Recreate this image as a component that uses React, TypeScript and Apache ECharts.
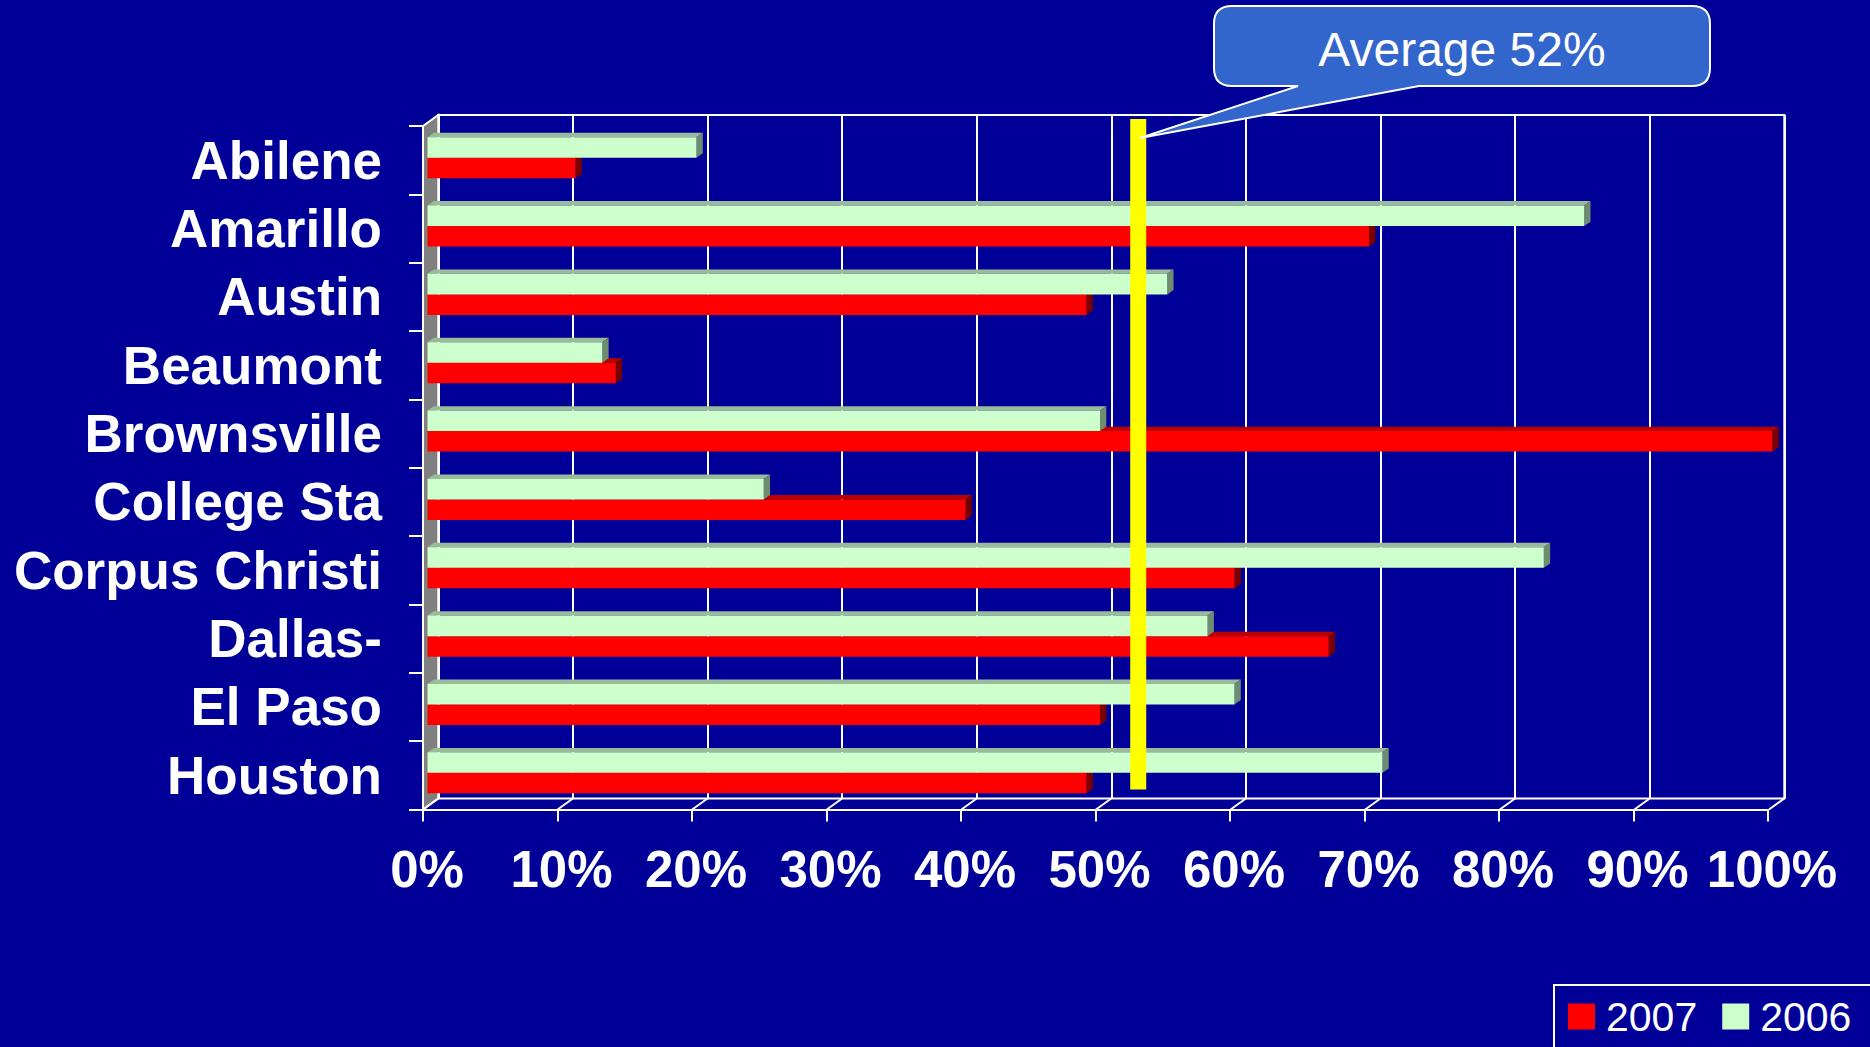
import React, { useEffect, useRef } from 'react';
import * as echarts from 'echarts';

// ---- data ----
const cities = [
  'Abilene',
  'Amarillo',
  'Austin',
  'Beaumont',
  'Brownsville',
  'College Sta',
  'Corpus Christi',
  'Dallas-',
  'El Paso',
  'Houston',
];
const values2007 = [11, 70, 49, 14, 100, 40, 60, 67, 50, 49];
const values2006 = [20, 86, 55, 13, 50, 25, 83, 58, 60, 71];
const percentTicks = [0, 10, 20, 30, 40, 50, 60, 70, 80, 90, 100];
const averagePct = 52;
const seriesNames = ['2007', '2006'];

// ---- look ----
const FONT = '"Liberation Sans", Arial, Helvetica, sans-serif';
const BG = '#000099';
const WHITE = '#FFFFFF';
const RED = { front: '#FF0000', top: '#BB0000', side: '#7A0000' };
const GREEN = { front: '#CCFFCC', top: '#99BB99', side: '#6E8C6E' };
const YELLOW = '#FFFF00';

// 3D box planes (back wall, front floor edge, bar plane in between)
const BACK = { left: 438.3, top: 115, width: 1346, height: 683.5 };
const FRONT = { left: 423, top: 126, width: 1345, height: 683.5 };
const BARS = { left: 427.5, top: 123.5, width: 1345, height: 683.5 };
const BAR_DEPTH = { dx: 6.3, dy: -4.4 };
const BAR_RATIO = 0.3; // bar thickness as a share of a category band

// legend frame (runs off the bottom-right corner)
const LEGEND_BOX = { x: 1554, y: 985, width: 400, height: 120 };

// speech bubble outline, drawn in local coords
const BUBBLE = { x: 1214, y: 6, w: 496, h: 80, r: 18, tailL: 84, tailR: 205, tipX: -74, tipY: 132 };
const bubblePath = (() => {
  const { w, h, r, tailL, tailR, tipX, tipY } = BUBBLE;
  return (
    `M ${r} 0 H ${w - r} Q ${w} 0 ${w} ${r} V ${h - r} Q ${w} ${h} ${w - r} ${h} ` +
    `H ${tailR} L ${tipX} ${tipY} L ${tailL} ${h} H ${r} Q 0 ${h} 0 ${h - r} V ${r} Q 0 0 ${r} 0 Z`
  );
})();
echarts.graphic.registerShape('callout', echarts.graphic.extendPath(bubblePath, {}));

// a flat-shaded 3D bar: front face, top face and right side face
function barRenderer(upper: boolean, colors: { front: string; top: string; side: string }) {
  return (params: any, api: any) => {
    const v = api.value(0);
    const c = api.value(1);
    const start = api.coord([0, c]);
    const end = api.coord([v, c]);
    const band = api.size([0, 1])[1];
    const h = band * BAR_RATIO;
    const x0 = start[0];
    const x1 = end[0];
    const y0 = upper ? start[1] - h : start[1];
    const { dx, dy } = BAR_DEPTH;
    return {
      type: 'group',
      children: [
        {
          type: 'polygon',
          shape: { points: [[x0, y0], [x0 + dx, y0 + dy], [x1 + dx, y0 + dy], [x1, y0]] },
          style: { fill: colors.top },
        },
        {
          type: 'polygon',
          shape: { points: [[x1, y0], [x1 + dx, y0 + dy], [x1 + dx, y0 + h + dy], [x1, y0 + h]] },
          style: { fill: colors.side },
        },
        {
          type: 'rect',
          shape: { x: x0, y: y0, width: x1 - x0, height: h },
          style: { fill: colors.front },
        },
      ],
    };
  };
}

export default function App() {
  const ref = useRef<HTMLDivElement>(null);

  useEffect(() => {
    document.body.style.margin = '0';
    document.body.style.background = BG;
    const chart = echarts.init(ref.current!, undefined, { renderer: 'svg' });

    const option: any = {
      animation: false,
      backgroundColor: BG,
      textStyle: { fontFamily: FONT },
      grid: [
        { ...BACK, show: true, borderColor: WHITE, borderWidth: 2, backgroundColor: 'transparent' },
        { ...FRONT },
        { ...BARS },
      ],
      xAxis: [
        {
          gridIndex: 0,
          type: 'value',
          min: 0,
          max: 100,
          interval: 10,
          axisLine: { show: false },
          axisTick: { show: false },
          axisLabel: { show: false },
          splitLine: { show: true, lineStyle: { color: WHITE, width: 2 } },
        },
        {
          gridIndex: 1,
          type: 'value',
          min: 0,
          max: 100,
          interval: 10,
          z: 2,
          axisLine: { show: true, onZero: false, lineStyle: { color: WHITE, width: 2 } },
          axisTick: { show: true, length: 12, lineStyle: { color: WHITE, width: 2 } },
          axisLabel: {
            formatter: '{value}%',
            color: WHITE,
            fontSize: 51,
            fontWeight: 'bold',
            fontFamily: FONT,
            margin: 34,
            padding: [0, 0, 0, 8],
          },
          splitLine: { show: false },
        },
        { gridIndex: 2, type: 'value', min: 0, max: 100, show: false },
      ],
      yAxis: [
        { gridIndex: 0, type: 'value', min: 0, max: 1, show: false },
        {
          gridIndex: 1,
          type: 'category',
          data: cities,
          inverse: true,
          z: 2,
          axisLine: { show: true, lineStyle: { color: WHITE, width: 2 } },
          axisTick: { show: true, length: 14, lineStyle: { color: WHITE, width: 2 } },
          axisLabel: {
            interval: 0,
            color: WHITE,
            fontSize: 53,
            fontWeight: 'bold',
            fontFamily: FONT,
            margin: 41,
          },
          splitLine: { show: false },
        },
        { gridIndex: 2, type: 'category', data: cities, inverse: true, show: false },
      ],
      legend: {
        data: seriesNames,
        left: LEGEND_BOX.x,
        top: LEGEND_BOX.y,
        orient: 'horizontal',
        icon: 'rect',
        itemWidth: 27,
        itemHeight: 26,
        itemGap: 25,
        padding: [11, 0, 0, 14],
        selectedMode: false,
        textStyle: { color: WHITE, fontSize: 41, fontFamily: FONT, padding: [0, 0, 0, 6] },
      },
      series: [
        {
          // floor lines joining the back wall grid to the front axis ticks
          type: 'custom',
          xAxisIndex: 0,
          yAxisIndex: 0,
          silent: true,
          z: 1,
          data: percentTicks.map((v) => [v, 0]),
          renderItem: (params: any, api: any) => {
            const p = api.coord([api.value(0), 0]);
            return {
              type: 'line',
              shape: { x1: p[0], y1: p[1], x2: p[0] - (BACK.left - FRONT.left), y2: p[1] + 11 },
              style: { stroke: WHITE, lineWidth: 2 },
            };
          },
        },
        {
          name: seriesNames[0],
          type: 'custom',
          xAxisIndex: 2,
          yAxisIndex: 2,
          z: 3,
          itemStyle: { color: RED.front },
          encode: { x: 0, y: 1 },
          data: values2007.map((v, i) => [v, i]),
          renderItem: barRenderer(false, RED),
        },
        {
          name: seriesNames[1],
          type: 'custom',
          xAxisIndex: 2,
          yAxisIndex: 2,
          z: 3,
          itemStyle: { color: GREEN.front },
          encode: { x: 0, y: 1 },
          data: values2006.map((v, i) => [v, i]),
          renderItem: barRenderer(true, GREEN),
        },
        {
          // average marker on the back wall
          type: 'custom',
          xAxisIndex: 0,
          yAxisIndex: 0,
          silent: true,
          z: 5,
          data: [[averagePct, 0]],
          renderItem: (params: any, api: any) => {
            const top = api.coord([api.value(0), 1]);
            const bottom = api.coord([api.value(0), 0]);
            const w = 16;
            return {
              type: 'rect',
              shape: { x: top[0] - w / 2, y: top[1] + 4, width: w, height: bottom[1] - top[1] - 13 },
              style: { fill: YELLOW },
            };
          },
        },
      ],
      graphic: [
        {
          // left side wall of the box
          type: 'polygon',
          z: 1,
          shape: {
            points: [
              [FRONT.left, FRONT.top],
              [BACK.left, BACK.top],
              [BACK.left, BACK.top + BACK.height],
              [FRONT.left, FRONT.top + FRONT.height],
            ],
          },
          style: { fill: '#808080', stroke: WHITE, lineWidth: 2 },
        },
        {
          type: 'rect',
          z: 1,
          shape: { ...LEGEND_BOX },
          style: { fill: 'transparent', stroke: WHITE, lineWidth: 2 },
        },
        {
          type: 'callout',
          x: BUBBLE.x,
          y: BUBBLE.y,
          z: 10,
          style: { fill: '#3366CC', stroke: WHITE, lineWidth: 2 },
        },
        {
          type: 'text',
          x: BUBBLE.x + BUBBLE.w / 2,
          y: 49,
          z: 11,
          style: {
            text: `Average ${averagePct}%`,
            fill: WHITE,
            fontSize: 48,
            fontFamily: FONT,
            align: 'center',
            verticalAlign: 'middle',
          },
        },
      ],
    };

    chart.setOption(option);
    return () => chart.dispose();
  }, []);

  return (
    <div
      ref={ref}
      style={{ position: 'absolute', left: 0, top: 0, width: 1870, height: 1047 }}
    />
  );
}
